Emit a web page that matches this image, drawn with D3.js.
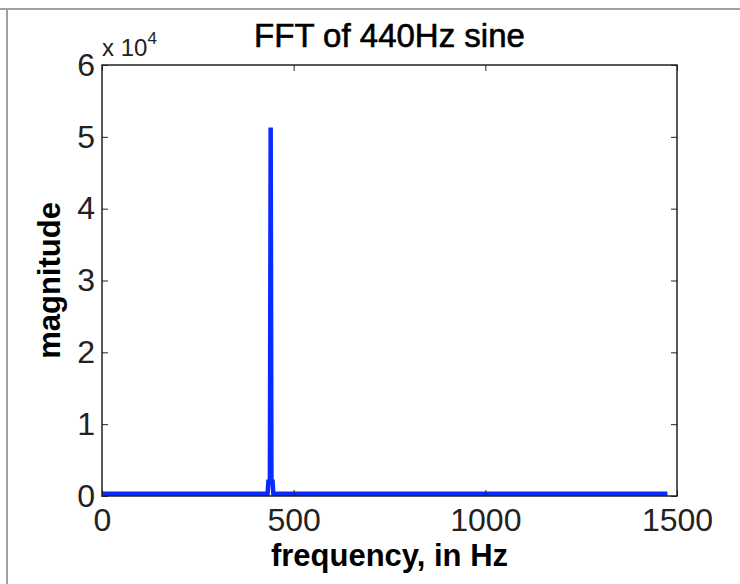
<!DOCTYPE html>
<html>
    <head>
        <script src="https://cdn.jsdelivr.net/npm/d3@7"></script>
        <style>
            body { margin: 0; background: #fff; }
            text { font-family: "Liberation Sans", Arial, sans-serif; }
        </style>
    </head>

    <body>
        <svg id="chart" width="740" height="584"></svg>
        <script>
            // spectrum points (Hz, magnitude)
            const freqs = [0, 432, 434, 438, 440, 442, 445, 447, 1475];
            const mags = [300, 300, 2000, 2000, 51300, 2000, 2000, 300, 300];
            const xTicks = [0, 500, 1000, 1500];
            const yTicks = [0, 1, 2, 3, 4, 5, 6];   // in units of 10^4

            const svg = d3.select("#chart");
            const plotL = 102, plotR = 677, plotT = 65, plotB = 496;

            // window frame edges
            svg.append("line").attr("x1", 0).attr("x2", 740).attr("y1", 9).attr("y2", 9)
                .attr("stroke", "#a0a0a0").attr("stroke-width", 2);
            svg.append("line").attr("x1", 7).attr("x2", 7).attr("y1", 9).attr("y2", 584)
                .attr("stroke", "#a0a0a0").attr("stroke-width", 2);

            const x = d3.scaleLinear().domain([0, 1500]).range([plotL, plotR]);
            const y = d3.scaleLinear().domain([0, 6]).range([plotB, plotT]);

            // data line
            const line = d3.line()
                .x((d, i) => x(freqs[i]))
                .y((d, i) => y(mags[i] / 1e4));
            svg.append("path")
                .datum(mags)
                .attr("d", line)
                .attr("fill", "none")
                .attr("stroke", "#0a2bff")
                .attr("stroke-width", 4.5);

            // axes, ticks pointing inward
            function styleAxis(g) {
                g.select(".domain").remove();
                g.selectAll("line").attr("stroke", "#222");
                g.selectAll("text")
                    .attr("fill", "#222")
                    .style("font-family", "Liberation Sans, Arial, sans-serif")
                    .style("font-size", "32px");
            }
            svg.append("g")
                .attr("transform", `translate(0,${plotB})`)
                .call(d3.axisBottom(x).tickValues(xTicks).tickSize(-6).tickPadding(12).tickFormat(d3.format("d")))
                .call(styleAxis);
            svg.append("g")
                .attr("transform", `translate(0,${plotT})`)
                .call(d3.axisTop(x).tickValues(xTicks).tickSize(-6).tickFormat(""))
                .call(styleAxis);
            svg.append("g")
                .attr("transform", `translate(${plotL},0)`)
                .call(d3.axisLeft(y).tickValues(yTicks).tickSize(-6).tickPadding(7).tickFormat(d3.format("d")))
                .call(styleAxis);
            svg.append("g")
                .attr("transform", `translate(${plotR},0)`)
                .call(d3.axisRight(y).tickValues(yTicks).tickSize(-6).tickFormat(""))
                .call(styleAxis);

            // box
            svg.append("rect")
                .attr("x", plotL).attr("y", plotT)
                .attr("width", plotR - plotL).attr("height", plotB - plotT)
                .attr("fill", "none").attr("stroke", "#222").attr("stroke-width", 1.5);

            // exponent label
            const ex = svg.append("text").attr("x", plotL).attr("y", 56)
                .attr("fill", "#222").style("font-size", "24px");
            ex.append("tspan").text("x 10");
            ex.append("tspan").attr("dy", -12).style("font-size", "17px").text("4");

            // title and axis labels
            svg.append("text")
                .attr("x", (plotL + plotR) / 2).attr("y", 47)
                .attr("text-anchor", "middle")
                .attr("stroke", "#000").attr("stroke-width", 0.6)
                .style("font-size", "33px")
                .text("FFT of 440Hz sine");
            svg.append("text")
                .attr("x", (plotL + plotR) / 2).attr("y", 566)
                .attr("text-anchor", "middle")
                .style("font-size", "31px").style("font-weight", "bold")
                .text("frequency, in Hz");
            svg.append("text")
                .attr("transform", `translate(60,${(plotT + plotB) / 2}) rotate(-90)`)
                .attr("text-anchor", "middle")
                .style("font-size", "31px").style("font-weight", "bold")
                .text("magnitude");
        </script>
    </body>
</html>
